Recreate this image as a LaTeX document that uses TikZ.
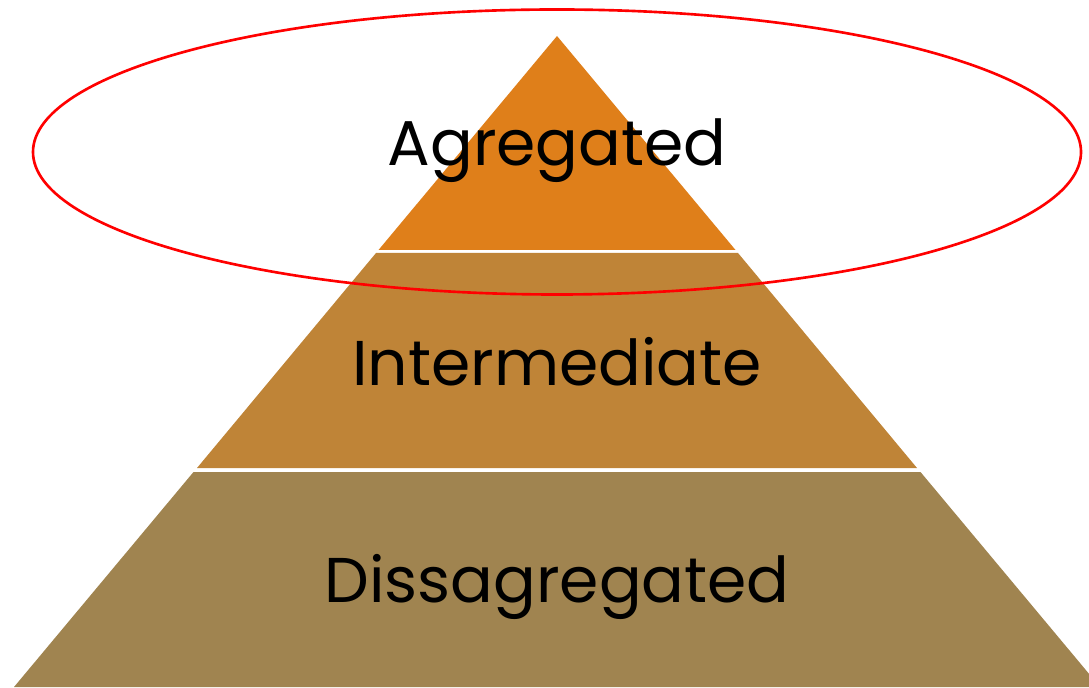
\documentclass[tikz,border=0pt]{standalone}
\usepackage{fontspec}
\setmainfont{Poppins}
\usetikzlibrary{positioning, shapes.geometric}
\definecolor{topband}{RGB}{223,127,26}
\definecolor{midband}{RGB}{191,132,55}
\definecolor{lowband}{RGB}{160,132,80}
\begin{document}
\begin{tikzpicture}[label/.style={font=\fontsize{18}{21}\selectfont, text=black, inner sep=0pt, anchor=base}]
    \useasboundingbox (0,0) rectangle (10.89,6.87);
    \clip (0,0) rectangle (10.89,6.87);
    % pyramid bands
    \fill[topband] (5.57,6.51) -- (3.785,4.37) -- (7.355,4.37) -- cycle;
    \fill[midband] (3.76,4.34) -- (7.38,4.34) -- (9.17,2.19) -- (1.97,2.19) -- cycle;
    \fill[lowband] (1.935,2.15) -- (9.205,2.15) -- (11.0,0) -- (0.14,0) -- cycle;
    \node[label] (agg) at (5.57,5.21) {Agregated};
    \node[label] (mid) at (5.57,3.02) {Intermediate};
    \node[label] (dis) at (5.57,0.85) {Dissagregated};
    % highlight
    \node[draw=red, line width=0.75pt, ellipse, minimum width=10.48cm, minimum height=2.85cm, inner sep=0pt] (ring) at (5.57,5.35) {};
\end{tikzpicture}
\end{document}
